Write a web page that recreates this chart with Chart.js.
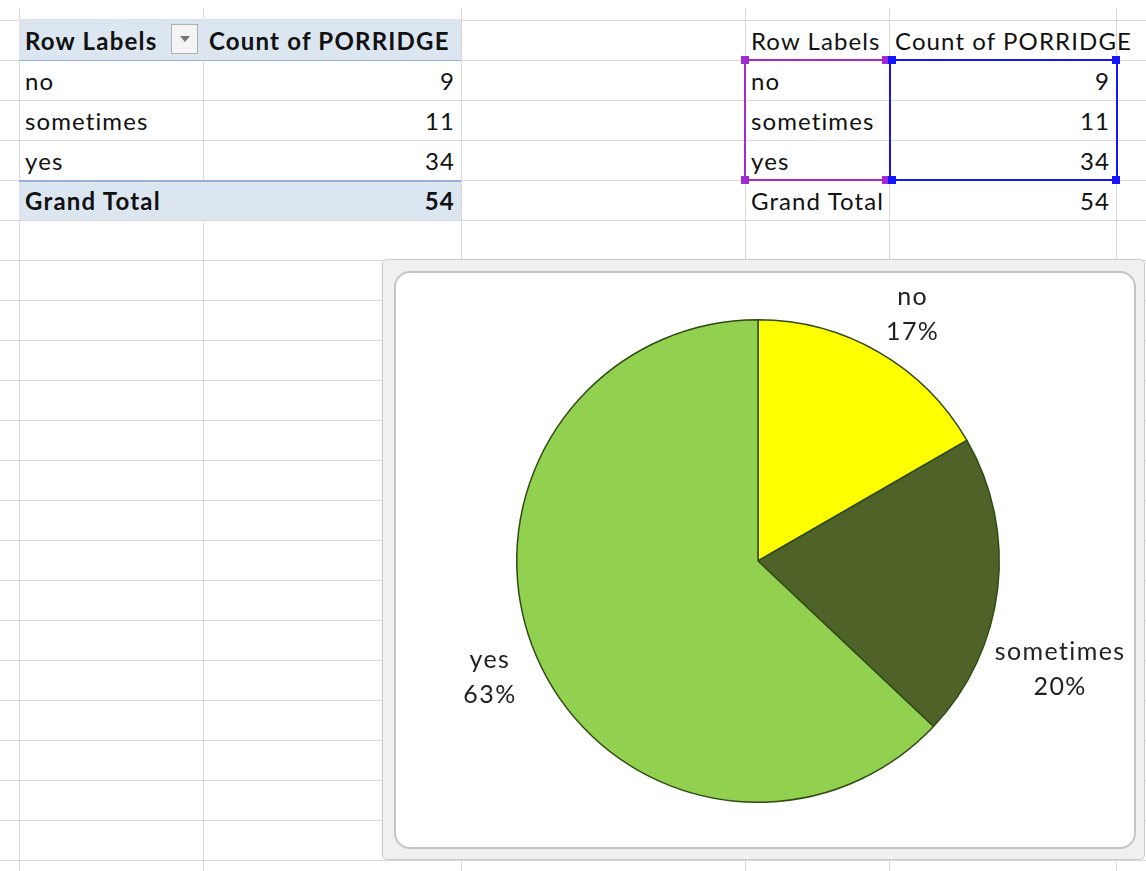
<!DOCTYPE html>
<html>
<head>
<meta charset="utf-8">
<script src="https://cdn.jsdelivr.net/npm/chart.js@4"></script>
<style>
  body { margin: 0; background: #fff; width: 1146px; height: 871px; overflow: hidden; position: relative;
         font-family: Lato, "Open Sans", sans-serif; font-size: 24px; letter-spacing: 1.1px; color: #111; }
  .hl { position: absolute; left: 0; width: 1146px; height: 1px; background: #d9d9d9; }
  .vl { position: absolute; top: 8px; height: 863px; width: 1px; background: #d9d9d9; }
  .band { position: absolute; background: #dce6f1; }
  .cell { position: absolute; height: 40px; line-height: 42px; white-space: nowrap; }
  .num { text-align: right; }
  .bold { font-weight: bold; letter-spacing: 1.2px; }
  .box { position: absolute; border: 2px solid; box-sizing: border-box; }
  .hd { position: absolute; width: 8px; height: 8px; }
  #frame { position: absolute; left: 382px; top: 259px; width: 763px; height: 601px; background: #f0f0f0;
           border: 1px solid #cacaca; border-radius: 5px; box-sizing: border-box; }
  #inner { position: absolute; left: 394px; top: 271px; width: 742px; height: 578px; background: #fff;
           border: 2px solid #c4c4c4; border-radius: 16px; box-sizing: border-box; overflow: hidden; }
  #chartWrap { position: absolute; left: 0; top: 0; width: 740px; height: 576px; }
</style>
</head>
<body>
<div id="grid"></div>

<div class="band" style="left:19px;top:19px;width:442px;height:41px;"></div>
<div class="band" style="left:19px;top:181px;width:442px;height:39px;"></div>
<div class="hl" style="left:19px;width:442px;top:60px;background:#95b3d7;"></div>
<div class="hl" style="left:19px;width:442px;top:180px;background:#95b3d7;height:2px;"></div>
<div style="position:absolute;left:171px;top:24px;width:27px;height:30px;background:#f4f4f4;border:1px solid #b0b0b0;box-sizing:border-box;">
  <div style="position:absolute;left:8px;top:11px;width:0;height:0;border-left:5px solid transparent;border-right:5px solid transparent;border-top:6px solid #777;"></div>
</div>
<div id="tables"></div>

<div class="box" style="left:744px;top:59px;width:147px;height:122px;border-color:#a229d6;"></div>
<div class="box" style="left:889px;top:59px;width:229px;height:122px;border-color:#1515ff;"></div>
<div class="hd" style="left:741px;top:56px;background:#a229d6;"></div>
<div class="hd" style="left:741px;top:176px;background:#a229d6;"></div>
<div class="hd" style="left:882px;top:56px;background:#a229d6;"></div>
<div class="hd" style="left:882px;top:176px;background:#a229d6;"></div>
<div class="hd" style="left:888px;top:56px;background:#1515ff;"></div>
<div class="hd" style="left:888px;top:176px;background:#1515ff;"></div>
<div class="hd" style="left:1112px;top:56px;background:#1515ff;"></div>
<div class="hd" style="left:1112px;top:176px;background:#1515ff;"></div>

<div id="frame"></div>
<div id="inner"><div id="chartWrap"><canvas id="pie"></canvas></div></div>

<script>
// data
const categories = ['no', 'sometimes', 'yes'];
const counts = [9, 11, 34];
const sliceColors = ['#ffff00', '#4f6228', '#92d050'];

const total = counts.reduce((a, b) => a + b, 0);

// spreadsheet grid
const grid = document.getElementById('grid');
for (let y = 20; y <= 860; y += 40) {
  const d = document.createElement('div');
  d.className = 'hl';
  d.style.top = y + 'px';
  grid.appendChild(d);
}
[19, 203, 461, 745, 889, 1116].forEach(x => {
  const d = document.createElement('div');
  d.className = 'vl';
  d.style.left = x + 'px';
  grid.appendChild(d);
});

// pivot tables
function addCell(text, x, y, w, cls) {
  const c = document.createElement('div');
  c.className = 'cell ' + (cls || '');
  c.style.left = x + 'px';
  c.style.top = y + 'px';
  if (w) c.style.width = w + 'px';
  c.textContent = text;
  document.getElementById('tables').appendChild(c);
}
function pivot(x0, x1, x2, bold) {
  const b = bold ? 'bold' : '';
  addCell('Row Labels', x0 + 6, 20, null, b);
  addCell('Count of PORRIDGE', x1 + 6, 20, null, b);
  categories.forEach((cat, i) => {
    addCell(cat, x0 + 6, 60 + i * 40, null, '');
    addCell(String(counts[i]), x1, 60 + i * 40, x2 - x1 - 6, 'num');
  });
  addCell('Grand Total', x0 + 6, 180, null, b);
  addCell(String(total), x1, 180, x2 - x1 - 6, 'num ' + b);
}
pivot(19, 203, 461, true);
pivot(745, 889, 1116, false);

// data labels outside the slices
const outsideLabels = {
  id: 'outsideLabels',
  afterDraw(chart, args, opts) {
    const ctx = chart.ctx;
    const meta = chart.getDatasetMeta(0);
    ctx.save();
    ctx.font = '25px Lato, "Open Sans", sans-serif';
    ctx.letterSpacing = '1.4px';
    ctx.fillStyle = '#222';
    ctx.textAlign = 'center';
    ctx.textBaseline = 'middle';
    meta.data.forEach((arc, i) => {
      const p = opts.place[i];
      const mid = (arc.startAngle + arc.endAngle) / 2 + p.shift * Math.PI / 180;
      const r = arc.outerRadius * p.dist;
      const x = arc.x + Math.cos(mid) * r;
      const y = arc.y + Math.sin(mid) * r;
      const pct = Math.round(counts[i] / total * 100) + '%';
      ctx.fillText(categories[i], x, y - 17);
      ctx.fillText(pct, x, y + 18);
    });
    ctx.restore();
  }
};

new Chart(document.getElementById('pie'), {
  type: 'pie',
  data: {
    labels: categories,
    datasets: [{
      data: counts,
      backgroundColor: sliceColors,
      borderColor: '#2f4a12',
      borderWidth: 1.5
    }]
  },
  options: {
    responsive: true,
    maintainAspectRatio: false,
    animation: false,
    layout: { padding: { left: 100, right: 116, top: 46, bottom: 46 } },
    plugins: {
      legend: { display: false },
      tooltip: { enabled: false },
      outsideLabels: {
        place: [
          { dist: 1.21, shift: 2 },
          { dist: 1.33, shift: 13 },
          { dist: 1.21, shift: 0 }
        ]
      }
    }
  },
  plugins: [outsideLabels]
});
</script>
</body>
</html>
